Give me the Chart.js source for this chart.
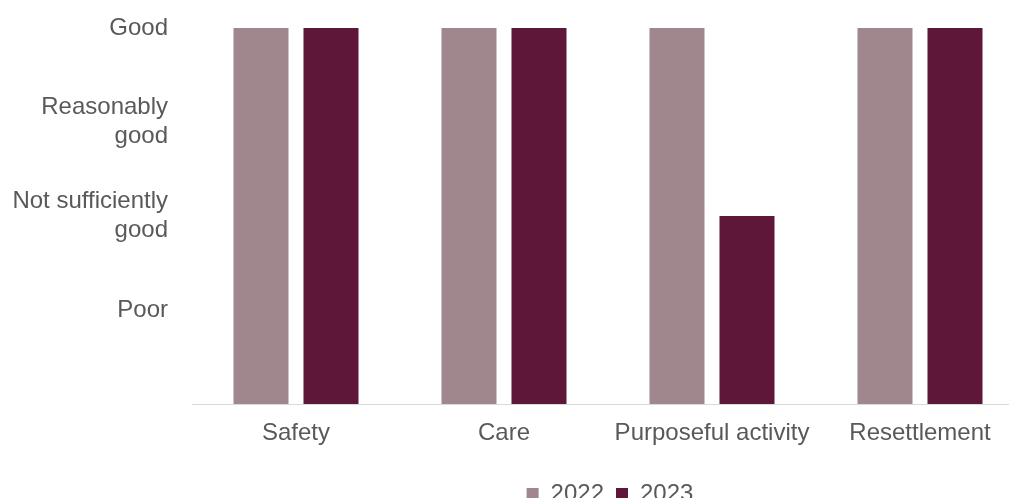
<!DOCTYPE html>
<html>
<head>
<meta charset="utf-8">
<script src="https://cdn.jsdelivr.net/npm/chart.js@4.4.1/dist/chart.umd.min.js"></script>
<style>
  html, body { margin: 0; padding: 0; background: #fff; overflow: hidden; }
  #wrap { position: relative; width: 1220px; height: 516px; }
</style>
</head>
<body>
<div id="wrap"><canvas id="chart"></canvas></div>
<script>
// rating scale: 1 = Poor ... 4 = Good
const categories = ["Safety", "Care", "Purposeful activity", "Resettlement"];
const ratings2022 = [4, 4, 4, 4];
const ratings2023 = [4, 4, 2, 4];
const ratingLabels = ["", "Poor", ["Not sufficiently", "good"], ["Reasonably", "good"], "Good"];

const TEXT = "#595959";
const FONT = "'Liberation Sans', Arial, sans-serif";

new Chart(document.getElementById("chart"), {
  type: "bar",
  data: {
    labels: categories,
    datasets: [
      {
        label: "2022",
        data: ratings2022,
        backgroundColor: "#a0868d",
        categoryPercentage: 0.673,
        barPercentage: 0.786,
      },
      {
        label: "2023",
        data: ratings2023,
        backgroundColor: "#5e1739",
        categoryPercentage: 0.673,
        barPercentage: 0.786,
      },
    ],
  },
  options: {
    responsive: true,
    maintainAspectRatio: false,
    animation: false,
    layout: { padding: { top: 28, right: 0, left: 0, bottom: 0 } },
    plugins: {
      legend: {
        position: "bottom",
        labels: {
          color: TEXT,
          font: { family: FONT, size: 24 },
          boxWidth: 12,
          boxHeight: 12,
          padding: 12,
        },
      },
      tooltip: { enabled: false },
    },
    scales: {
      x: {
        afterFit(scale) { scale.height = 66; },
        grid: { display: false, drawTicks: false },
        border: { color: "#d9d9d9", width: 1 },
        ticks: { color: TEXT, font: { family: FONT, size: 24 }, padding: 15 },
      },
      y: {
        min: 0,
        max: 4,
        afterFit(scale) {
          scale.width = 192;
          scale.paddingTop = 0;
          scale.paddingBottom = 0;
        },
        grid: { display: false, drawTicks: false },
        border: { display: false },
        ticks: {
          stepSize: 1,
          color: TEXT,
          font: { family: FONT, size: 24 },
          padding: 24,
          callback(value) { return ratingLabels[value]; },
        },
      },
      // empty right-hand spacer, the source picture is cropped on the right
      spacer: {
        position: "right",
        afterFit(scale) { scale.width = 196; },
        grid: { display: false, drawTicks: false },
        border: { display: false },
        ticks: { display: false },
      },
    },
  },
});
</script>
</body>
</html>
